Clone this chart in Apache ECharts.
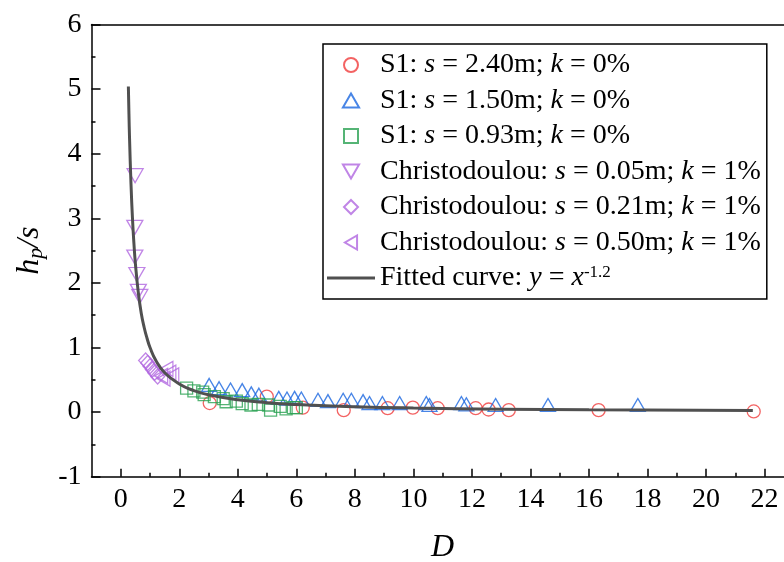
<!DOCTYPE html>
<html><head><meta charset="utf-8">
<script src="https://cdn.jsdelivr.net/npm/echarts@6/dist/echarts.min.js"></script>
<style>html,body{margin:0;padding:0;background:#fff}#c{width:784px;height:562px}</style>
</head><body><div id="c"></div>
<script>
// ---- data ----
const seriesNames = [
  'S1: s = 2.40m; k = 0%',
  'S1: s = 1.50m; k = 0%',
  'S1: s = 0.93m; k = 0%',
  'Christodoulou: s = 0.05m; k = 1%',
  'Christodoulou: s = 0.21m; k = 1%',
  'Christodoulou: s = 0.50m; k = 1%',
  'Fitted curve: y = x-1.2'
];
const legendRich = [
  '{t|S1: }{i|s}{t| = 2.40m; }{i|k}{t| = 0%}',
  '{t|S1: }{i|s}{t| = 1.50m; }{i|k}{t| = 0%}',
  '{t|S1: }{i|s}{t| = 0.93m; }{i|k}{t| = 0%}',
  '{t|Christodoulou: }{i|s}{t| = 0.05m; }{i|k}{t| = 1%}',
  '{t|Christodoulou: }{i|s}{t| = 0.21m; }{i|k}{t| = 1%}',
  '{t|Christodoulou: }{i|s}{t| = 0.50m; }{i|k}{t| = 1%}',
  '{t|Fitted curve: }{i|y}{t| = }{i|x}{sup|-1.2}'
];
const s240 = [[3.04,0.14],[4.99,0.24],[6.22,0.07],[7.62,0.03],[9.12,0.06],[9.98,0.07],[10.83,0.06],[12.13,0.06],[12.57,0.04],[13.26,0.03],[16.33,0.03],[21.63,0.01]];
const s150 = [[3.02,0.42],[3.36,0.37],[3.75,0.35],[4.15,0.34],[4.46,0.29],[4.72,0.27],[5.40,0.22],[5.68,0.21],[5.94,0.22],[6.17,0.21],[6.74,0.19],[7.08,0.17],[7.60,0.19],[7.88,0.19],[8.28,0.17],[8.50,0.14],[8.94,0.14],[9.53,0.14],[10.44,0.14],[10.55,0.11],[11.64,0.14],[11.81,0.12],[12.81,0.11],[14.60,0.11],[17.67,0.11]];
const s093 = [[2.25,0.37],[2.5,0.33],[2.8,0.31],[2.85,0.27],[3.2,0.24],[3.5,0.21],[3.6,0.16],[3.95,0.17],[4.15,0.13],[4.45,0.11],[4.7,0.12],[5.05,0.11],[5.12,0.03],[5.45,0.09],[5.65,0.05],[5.9,0.07],[6.0,0.07]];
const c005 = [[0.49,3.66],[0.48,2.86],[0.48,2.40],[0.55,2.13],[0.60,1.87],[0.65,1.79]];
const c021 = [[0.85,0.80],[0.92,0.76],[1.00,0.71],[1.08,0.66],[1.16,0.61],[1.26,0.55]];
const c050 = [[1.38,0.56],[1.46,0.52],[1.56,0.67],[1.66,0.61],[1.76,0.57]];
const fitX = [0.26,0.28,0.3,0.35,0.4,0.45,0.5,0.6,0.7,0.8,0.9,1.0,1.2,1.5,2,2.5,3,4,5,6,8,10,13,16,21.6];
const fitY = [5.04,4.61,4.24,3.53,3.00,2.61,2.30,1.85,1.53,1.31,1.14,1.00,0.80,0.61,0.435,0.333,0.268,0.190,0.145,0.117,0.083,0.063,0.046,0.036,0.025];
const xMajor = [0,2,4,6,8,10,12,14,16,18,20,22];
const xMinor = [1,3,5,7,9,11,13,15,17,19,21];

// ---- chart ----
const FONT = 'Liberation Serif';
const chart = echarts.init(document.getElementById('c'), null, {renderer: 'canvas'});
const mk = (name, data, symbol, size, rotate, color) => ({
  name, type: 'scatter', data, symbol, symbolSize: size, symbolRotate: rotate, symbolKeepAspect: true,
  itemStyle: {color: 'rgba(0,0,0,0)', borderColor: color, borderWidth: 1.3},
  emphasis: {disabled: true}, z: 2
});
const axisCommon = {
  axisLine: {onZero: false, lineStyle: {color: '#000', width: 1.5}},
  splitLine: {show: false}
};
// legend icon shapes (aspect kept)
const ICON_CIRCLE = 'path://M1,0A1,1,0,1,1,1,2A1,1,0,1,1,1,0Z';
const ICON_UP = 'path://M1,0L2,1.732L0,1.732Z';
const ICON_RECT = 'path://M0,0L1,0L1,1L0,1Z';
const ICON_DOWN = 'path://M0,0L2,0L1,1.732Z';
const ICON_DIAMOND = 'path://M1,0L2,1L1,2L0,1Z';
const ICON_LEFT = 'path://M1.732,0L1.732,2L0,1Z';
const ICON_LINE = 'path://M0,0L48,0L48,3L0,3Z';
chart.setOption({
  animation: false,
  backgroundColor: '#fff',
  grid: {left: 91.5, top: 24.5, bottom: 85.3, right: -9.8, containLabel: false, outerBoundsMode: 'none'},
  legend: {
    orient: 'vertical', left: 323, top: 44,
    padding: [7, 6, 7, 4], itemGap: 7.5, itemWidth: 48, itemHeight: 14,
    symbolKeepAspect: true,
    borderColor: '#000', borderWidth: 1.5, backgroundColor: '#fff',
    data: [
      {name: seriesNames[0], icon: ICON_CIRCLE},
      {name: seriesNames[1], icon: ICON_UP},
      {name: seriesNames[2], icon: ICON_RECT},
      {name: seriesNames[3], icon: ICON_DOWN},
      {name: seriesNames[4], icon: ICON_DIAMOND},
      {name: seriesNames[5], icon: ICON_LEFT},
      {name: seriesNames[6], icon: ICON_LINE, itemStyle: {color: '#505050', borderWidth: 0}}
    ],
    formatter: n => legendRich[seriesNames.indexOf(n)],
    textStyle: {
      color: '#000', fontFamily: FONT, fontSize: 28,
      rich: {
        t: {fontFamily: FONT, fontSize: 28, color: '#000'},
        i: {fontFamily: FONT, fontSize: 28, fontStyle: 'italic', color: '#000'},
        sup: {fontFamily: FONT, fontSize: 17, color: '#000', verticalAlign: 'top'}
      }
    }
  },
  xAxis: [
    Object.assign({}, axisCommon, {
      type: 'value', min: -1, max: 23, interval: 1,
      axisTick: {inside: true, length: 8, lineStyle: {color: '#000', width: 1.5}, customValues: xMajor},
      axisLabel: {customValues: xMajor, color: '#000', fontFamily: FONT, fontSize: 28, margin: 9},
      name: 'D', nameLocation: 'middle', nameGap: 55,
      nameTextStyle: {fontFamily: FONT, fontSize: 32, fontStyle: 'italic', color: '#000'}
    }),
    Object.assign({}, axisCommon, {
      type: 'value', min: -1, max: 23, interval: 1, position: 'bottom',
      axisLine: {show: false, onZero: false},
      axisTick: {inside: true, length: 4, lineStyle: {color: '#000', width: 1.5}, customValues: xMinor},
      axisLabel: {show: false}
    }),
    Object.assign({}, axisCommon, {
      type: 'value', min: -1, max: 23, interval: 1, position: 'top',
      axisTick: {show: false}, axisLabel: {show: false}
    })
  ],
  yAxis: [Object.assign({}, axisCommon, {
    type: 'value', min: -1, max: 6, interval: 1,
    axisTick: {inside: true, length: 9, lineStyle: {color: '#000', width: 1.5}},
    minorTick: {show: true, splitNumber: 2, length: 4, lineStyle: {color: '#000', width: 1.5}},
    minorSplitLine: {show: false},
    axisLabel: {color: '#000', fontFamily: FONT, fontSize: 28, margin: 10},
    name: '{h|h}{p|p}{h|/s}', nameLocation: 'middle', nameGap: 40, nameRotate: 90,
    nameTextStyle: {
      fontFamily: FONT, fontSize: 32, fontStyle: 'italic', color: '#000',
      rich: {
        h: {fontFamily: FONT, fontSize: 32, fontStyle: 'italic', color: '#000'},
        p: {fontFamily: FONT, fontSize: 22, fontStyle: 'italic', color: '#000', verticalAlign: 'bottom', padding: [14, 0, 0, 0]}
      }
    }
  })],
  series: [
    mk(seriesNames[0], s240, 'circle', 13, 0, '#f03c3c'),
    mk(seriesNames[1], s150, 'triangle', [15, 13], 0, '#1a66e0'),
    mk(seriesNames[2], s093, 'rect', 12, 0, '#2aa152'),
    mk(seriesNames[3], c005, 'triangle', [16, 14], 180, '#b066e0'),
    mk(seriesNames[4], c021, 'diamond', [14, 15], 0, '#b066e0'),
    mk(seriesNames[5], c050, 'triangle', [15, 13], 90, '#b066e0'),
    {
      name: seriesNames[6], type: 'line', data: fitX.map((x, i) => [x, fitY[i]]),
      symbol: 'none', smooth: true, lineStyle: {color: '#505050', width: 3},
      itemStyle: {color: '#505050'}, z: 5, emphasis: {disabled: true}
    }
  ]
});
</script></body></html>
